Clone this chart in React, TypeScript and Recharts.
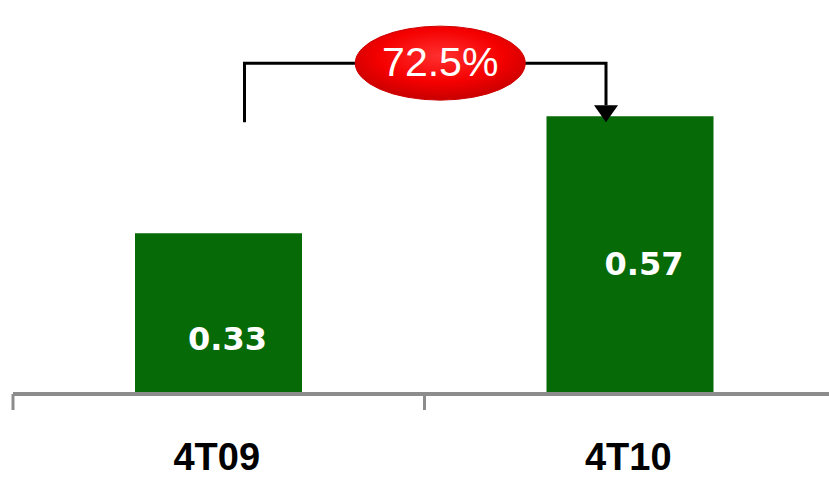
import React from "react";
import { BarChart, Bar, XAxis, YAxis, LabelList } from "recharts";

const categories = ["4T09", "4T10"];
const values = [0.33, 0.57];
const growthLabel = "72.5%";

const CHART_W = 836;
const CHART_H = 479;
const MARGIN = { top: 4, right: 0, bottom: 0, left: 13 };
const STEP = (CHART_W - MARGIN.left - MARGIN.right) / categories.length;

const BAR_COLOR = "#066a06";
const AXIS_COLOR = "#8c8c8c";

// small nudges so the value labels sit where they do in the slide
const LABEL_NUDGE = [
  { dx: 9, dy: 36 },
  { dx: 14, dy: 20 },
];

const data = categories.map((name, i) => ({ name, value: values[i] }));

const CategoryTick = (props: any) => {
  const { x, y, payload } = props;
  const edge = x - STEP / 2;
  return (
    <g>
      <line x1={edge} y1={y} x2={edge} y2={y + 16} stroke={AXIS_COLOR} strokeWidth={3} />
      <text
        x={x - 2}
        y={y + 76}
        textAnchor="middle"
        fontFamily="'Liberation Sans', Arial, sans-serif"
        fontWeight="bold"
        fontSize={38}
        fill="#000"
      >
        {payload.value}
      </text>
    </g>
  );
};

const ValueLabel = (props: any) => {
  const { x, y, width, height, value, index } = props;
  const nudge = LABEL_NUDGE[index] || { dx: 0, dy: 0 };
  return (
    <text
      x={x + width / 2 + nudge.dx}
      y={y + height / 2 + nudge.dy}
      textAnchor="middle"
      fontFamily="'DejaVu Sans', Verdana, sans-serif"
      fontWeight="bold"
      fontSize={32}
      fill="#fff"
    >
      {Number(value).toFixed(2)}
    </text>
  );
};

const GrowthBracket = (props: any) => {
  const { x, y, width, index } = props;
  if (index !== categories.length - 1) return null;
  const cx2 = x + width / 2;
  const cx1 = cx2 - STEP;
  const leftX = cx1 + 26;
  const arrowX = cx2 - 24;
  const lineY = y - 53;
  const endY = y + 6;
  const ellX = (cx1 + cx2) / 2 + 16;
  return (
    <g>
      <defs>
        <radialGradient id="pillGrad" cx="50%" cy="40%" r="60%">
          <stop offset="0%" stopColor="#ff3030" />
          <stop offset="60%" stopColor="#f50000" />
          <stop offset="100%" stopColor="#c80000" />
        </radialGradient>
      </defs>
      <polyline
        points={`${leftX},${endY} ${leftX},${lineY} ${arrowX},${lineY} ${arrowX},${endY - 17}`}
        fill="none"
        stroke="#000"
        strokeWidth={3}
      />
      <polygon
        points={`${arrowX - 12},${endY - 17} ${arrowX + 12},${endY - 17} ${arrowX},${endY}`}
        fill="#000"
      />
      <ellipse cx={ellX} cy={lineY} rx={85} ry={37} fill="url(#pillGrad)" stroke="#d00000" strokeWidth={1} />
      <text
        x={ellX}
        y={lineY + 13}
        textAnchor="middle"
        fontFamily="'Liberation Sans', Arial, sans-serif"
        fontSize={41}
        fill="#fff"
      >
        {growthLabel}
      </text>
    </g>
  );
};

export default function App() {
  return (
    <div
      style={{
        position: "absolute",
        left: 0,
        top: 0,
        width: 829,
        height: CHART_H,
        overflow: "hidden",
        background: "#fff",
      }}
    >
      <BarChart width={CHART_W} height={CHART_H} data={data} margin={MARGIN}>
        <XAxis
          dataKey="name"
          height={CHART_H - 394}
          axisLine={{ stroke: AXIS_COLOR, strokeWidth: 4 }}
          tickLine={false}
          tickSize={0}
          tickMargin={0}
          tick={<CategoryTick />}
          interval={0}
        />
        <YAxis hide domain={[0, 0.8]} />
        <Bar dataKey="value" fill={BAR_COLOR} barSize={167} isAnimationActive={false}>
          <LabelList dataKey="value" content={<ValueLabel />} />
          <LabelList dataKey="value" content={<GrowthBracket />} />
        </Bar>
      </BarChart>
    </div>
  );
}
